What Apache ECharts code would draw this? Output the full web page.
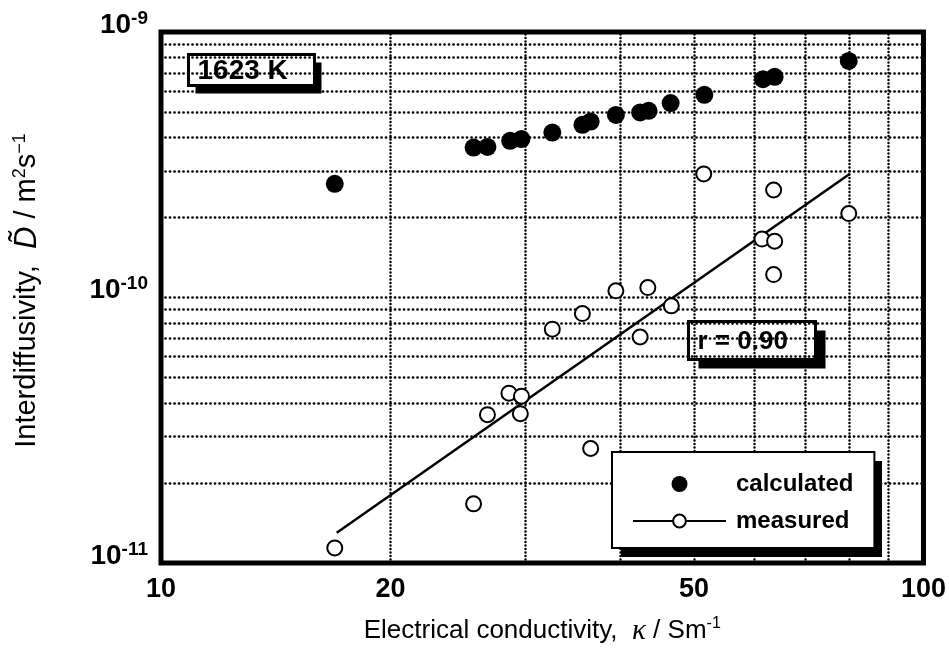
<!DOCTYPE html>
<html>
<head>
<meta charset="utf-8">
<title>Interdiffusivity vs electrical conductivity</title>
<script src="https://cdn.jsdelivr.net/npm/echarts@6/dist/echarts.min.js"></script>
<style>
html, body { margin: 0; padding: 0; background: #fff; }
#chart { width: 949px; height: 652px; }
</style>
</head>
<body>
<div id="chart"></div>
<script>
// values, 1623 K
const calcK = [16.9, 25.7, 26.8, 28.7, 29.7, 32.6, 35.7, 36.6, 39.5, 42.5, 43.6, 46.6, 51.6, 61.6, 63.8, 79.8];
const calcD = [2.68e-10, 3.67e-10, 3.69e-10, 3.89e-10, 3.95e-10, 4.18e-10, 4.47e-10, 4.60e-10, 4.87e-10, 4.98e-10, 5.05e-10, 5.40e-10, 5.80e-10, 6.64e-10, 6.78e-10, 7.78e-10];
const measK = [16.9, 25.7, 26.8, 28.6, 29.7, 29.6, 32.6, 35.7, 36.6, 39.5, 42.5, 43.5, 46.7, 51.5, 61.4, 63.6, 63.8, 63.6, 79.8];
const measD = [1.14e-11, 1.67e-11, 3.62e-11, 4.36e-11, 4.25e-11, 3.65e-11, 7.6e-11, 8.7e-11, 2.7e-11, 1.06e-10, 7.1e-11, 1.09e-10, 9.3e-11, 2.92e-10, 1.66e-10, 2.54e-10, 1.63e-10, 1.22e-10, 2.07e-10];
// regression line through the measured points (r = 0.90)
const fitK = [17, 80];
const fitD = [1.3e-11, 2.92e-10];
// axis range, labels and dotted grid positions
const xRange = [10, 100];
const yRange = [1e-11, 1e-9];
const xLabels = [10, 20, 50, 100];
const xGrid = [20, 30, 40, 50, 60, 70, 80, 90];
const yGrid = [2e-11, 3e-11, 4e-11, 5e-11, 6e-11, 7e-11, 8e-11, 9e-11, 1e-10,
  2e-10, 3e-10, 4e-10, 5e-10, 6e-10, 7e-10, 8e-10, 9e-10];

const font = '"Liberation Sans", Arial, sans-serif';
const zip = (a, b) => a.map((v, i) => [v, b[i]]);

const chart = echarts.init(document.getElementById('chart'));

// annotation box: black drop shadow, white box with black frame, bold text
const noteBox = (x, y, w, h, dx, dy, text, size) => ({
  type: 'group', left: x, top: y, z: 10, silent: true,
  children: [
    { type: 'rect', shape: { x: dx, y: dy, width: w, height: h }, style: { fill: '#000' } },
    { type: 'rect', shape: { x: 0, y: 0, width: w, height: h }, style: { fill: '#fff', stroke: '#000', lineWidth: 3 } },
    { type: 'text', x: 9, y: h / 2 + 1, style: { text: text, font: 'bold ' + size + 'px ' + font, fill: '#000', verticalAlign: 'middle' } }
  ]
});

const option = {
  animation: false,
  backgroundColor: '#fff',
  grid: {
    left: 161, right: 25, top: 32, bottom: 89,
    show: true, borderColor: '#000', borderWidth: 5, backgroundColor: 'transparent'
  },
  graphic: [
    noteBox(187, 53, 126, 31, 7, 8, '1623 K', 28),
    noteBox(687, 320, 127, 38, 10, 9, 'r = 0.90', 26),
    // drop shadow of the legend box
    { type: 'rect', z: 3, silent: true, shape: { x: 621, y: 461, width: 261, height: 96 }, style: { fill: '#000' } }
  ],
  legend: {
    orient: 'vertical',
    left: 612, top: 452,
    data: [
      { name: 'calculated' },
      { name: 'measured', lineStyle: { width: 2, color: '#000' } }
    ],
    itemWidth: 93, itemHeight: 16, itemGap: 13,
    padding: [20, 21, 15, 20],
    backgroundColor: '#fff', borderColor: '#000', borderWidth: 2,
    selectedMode: false,
    textStyle: { fontFamily: font, fontSize: 24, fontWeight: 'bold', color: '#000', lineHeight: 24, padding: [0, 0, 0, 5] }
  },
  xAxis: {
    type: 'log', logBase: 10, min: xRange[0], max: xRange[1],
    axisLine: { show: false }, axisTick: { show: false }, splitLine: { show: false },
    axisLabel: {
      customValues: xLabels, margin: 13,
      fontFamily: font, fontSize: 27, fontWeight: 'bold', color: '#000'
    },
    name: '{t|Electrical conductivity,  }{k|κ}{t| / Sm}{u|-1}',
    nameLocation: 'middle', nameGap: 53, nameMoveOverlap: false,
    nameTextStyle: {
      rich: {
        t: { fontFamily: font, fontSize: 26, color: '#000', lineHeight: 30 },
        k: { fontFamily: '"Liberation Serif", serif', fontStyle: 'italic', fontSize: 29, color: '#000', lineHeight: 30 },
        u: { fontFamily: font, fontSize: 16, color: '#000', verticalAlign: 'top', lineHeight: 16 }
      }
    }
  },
  yAxis: {
    type: 'log', logBase: 10, min: yRange[0], max: yRange[1],
    axisLine: { show: false }, axisTick: { show: false }, splitLine: { show: false },
    axisLabel: {
      margin: 13,
      padding: [0, 0, 14, 0],
      formatter: v => '{b|10}{s|-' + Math.abs(Math.round(Math.log10(v))) + '}',
      rich: {
        b: { fontFamily: font, fontSize: 28, fontWeight: 'bold', color: '#000', lineHeight: 32 },
        s: { fontFamily: font, fontSize: 19, fontWeight: 'bold', color: '#000', verticalAlign: 'top', lineHeight: 19 }
      }
    },
    name: '{t|Interdiffusivity,  }{d|D̃}{t| / m}{u|2}{t|s}{u|−1}',
    nameLocation: 'middle', nameRotate: 90, nameGap: 118, nameMoveOverlap: false,
    nameTextStyle: {
      padding: [0, 0, 0, 14],
      rich: {
        t: { fontFamily: font, fontSize: 29, color: '#000', lineHeight: 32 },
        d: { fontFamily: font, fontStyle: 'italic', fontSize: 31, color: '#000', lineHeight: 32 },
        u: { fontFamily: font, fontSize: 18, color: '#000', verticalAlign: 'top', lineHeight: 18 }
      }
    }
  },
  series: [
    {
      name: 'gridV', type: 'lines', coordinateSystem: 'cartesian2d', z: 1, silent: true,
      lineStyle: { color: '#000', width: 2.5, type: [0.1, 3.4], cap: 'round', opacity: 1 },
      data: xGrid.map(v => ({ coords: [[v, yRange[0]], [v, yRange[1]]] }))
    },
    {
      name: 'gridH', type: 'lines', coordinateSystem: 'cartesian2d', z: 1, silent: true,
      lineStyle: { color: '#000', width: 2.7, type: [0.1, 4.4], cap: 'round', opacity: 1 },
      data: yGrid.map(v => ({ coords: [[xRange[0], v], [xRange[1], v]] }))
    },
    {
      name: 'fit', type: 'line', data: zip(fitK, fitD), z: 3,
      symbol: 'none', lineStyle: { color: '#000', width: 2.5 }
    },
    {
      name: 'calculated', type: 'scatter', data: zip(calcK, calcD), z: 4,
      symbol: 'circle', symbolSize: 18, itemStyle: { color: '#000', opacity: 1 }
    },
    {
      name: 'measured', type: 'line', data: zip(measK, measD), z: 5,
      symbol: 'emptyCircle', symbolSize: 15, showSymbol: true,
      lineStyle: { width: 0, color: '#000' },
      itemStyle: { color: '#000', borderColor: '#000', borderWidth: 2, opacity: 1 }
    }
  ]
};

chart.setOption(option);
</script>
</body>
</html>
